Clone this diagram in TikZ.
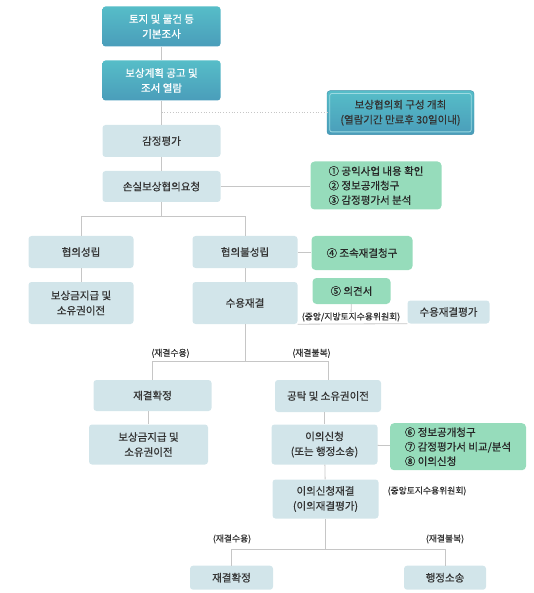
\documentclass[tikz,border=0pt]{standalone}
\usepackage{fontspec}
\setmainfont{Noto Sans CJK KR}
\newfontfamily\boxfont{Noto Sans CJK KR}[FakeBold=0.6]
\definecolor{cTealTop}{HTML}{56BDC8}
\definecolor{cTealBot}{HTML}{4A9DBA}
\definecolor{cTealRim}{HTML}{3F8FAA}
\definecolor{cTealInner}{HTML}{9CDAE2}
\definecolor{cPale}{HTML}{D2E5EA}
\definecolor{cMint}{HTML}{96DCBB}
\definecolor{cLine}{HTML}{C6C6C6}
\definecolor{cText}{HTML}{333333}
\tikzset{
  tealbox/.style={rounded corners=3pt, top color=cTealTop, bottom color=cTealBot, text=white,
    font=\boxfont\fontsize{10.5}{15}\selectfont, align=center, inner sep=0pt},
  palebox/.style={rounded corners=3pt, fill=cPale, text=cText,
    font=\boxfont\fontsize{10.5}{15}\selectfont, align=center, inner sep=0pt},
  mintbox/.style={rounded corners=4pt, fill=cMint, text=black!85,
    font=\boxfont\fontsize{10.5}{14.5}\selectfont, align=left, inner sep=0pt},
  link/.style={draw=cLine, line width=0.8pt},
  dotlink/.style={draw=cLine, line width=0.8pt, dotted},
  tag/.style={font=\boxfont\fontsize{8.8}{10}\selectfont, text=cText, inner sep=0pt}
}

\begin{document}
\begin{tikzpicture}[x=1pt,y=-1pt]
\useasboundingbox (0,0) rectangle (533,593);

\node[tealbox, minimum width=118, minimum height=40] (survey) at (161.5,26.5) {토지 및 물건 등\\기본조사};
\node[tealbox, minimum width=118, minimum height=40] (notice) at (161.5,80.5) {보상계획 공고 및\\조서 열람};
\node[tealbox, draw=cTealRim, text=cText, minimum width=147, minimum height=44] (council) at (400.5,112.7) {보상협의회 구성 개최\\(열람기간 만료후 30일이내)};
\draw[cTealInner, line width=0.8pt, rounded corners=2pt] ([shift={(3,3)}]council.north west) rectangle ([shift={(-3,-3)}]council.south east);

\node[palebox, minimum width=118, minimum height=32] (appraisal) at (161.5,141) {감정평가};
\node[palebox, minimum width=118, minimum height=31] (request) at (161.5,186.5) {손실보상협의요청};
\node[mintbox, minimum width=131, minimum height=48] (check1) at (376,185.5) {① 공익사업 내용 확인\\② 정보공개청구\\③ 감정평가서 분석};

\node[palebox, minimum width=105, minimum height=32] (agree) at (81,252) {협의성립};
\node[palebox, minimum width=105, minimum height=32] (disagree) at (245,252) {협의불성립};
\node[mintbox, minimum width=101, minimum height=34] (req4) at (362,253) {④ 조속재결청구};
\node[palebox, minimum width=105, minimum height=42] (pay1) at (81,303) {보상금지급 및\\소유권이전};
\node[palebox, minimum width=105, minimum height=42] (adjud) at (245,303) {수용재결};
\node[mintbox, minimum width=78, minimum height=26] (opinion) at (351.5,291) {⑤ 의견서};
\node[tag] (committee) at (351,317) {(중앙/지방토지수용위원회)};
\node[palebox, minimum width=82, minimum height=23] (evalbox) at (448.5,312) {수용재결평가};

\node[palebox, minimum width=118, minimum height=31] (confirm1) at (152.5,395.5) {재결확정};
\node[palebox, minimum width=106, minimum height=32] (deposit) at (328,396) {공탁 및 소유권이전};
\node[palebox, minimum width=119, minimum height=40] (pay2) at (148.5,444.5) {보상금지급 및\\소유권이전};
\node[palebox, minimum width=106, minimum height=40] (objection) at (324.5,444.5) {이의신청\\(또는 행정소송)};
\node[mintbox, minimum width=136, minimum height=47] (check2) at (458,446.7) {⑥ 정보공개청구\\⑦ 감정평가서 비교/분석\\⑧ 이의신청};
\node[palebox, minimum width=106, minimum height=39] (review) at (325.5,499) {이의신청재결\\(이의재결평가)};
\node[tag] (central) at (427,491) {(중앙토지수용위원회)};

\node[palebox, minimum width=83, minimum height=24] (confirm2) at (231.5,577.7) {재결확정};
\node[palebox, minimum width=82, minimum height=24] (suit) at (445,577.7) {행정소송};

\node[tag] (accept1) at (170.5,353.3) {(재결수용)};
\node[tag] (refuse1) at (311.5,353.3) {(재결불복)};
\node[tag] (accept2) at (232,539) {(재결수용)};
\node[tag] (refuse2) at (445,539) {(재결불복)};

\coordinate (split1) at (161.5,216.3);
\coordinate (split2) at (245,361);
\coordinate (split3) at (325.5,549.3);

\draw[link] (survey) -- (notice);
\draw[link] (notice) -- (appraisal);
\draw[dotlink] (notice.south |- council.west) -- (council.west);
\draw[link] (appraisal) -- (request);
\draw[link] (request.east) -- (request.east -| check1.west);
\draw[link] (request) -- (split1);
\draw[link] (split1) -| (agree);
\draw[link] (split1) -| (disagree);
\draw[link] (agree) -- (pay1);
\draw[link] (disagree) -- (adjud);
\draw[link] (disagree.east) -- (disagree.east -| req4.west);
\draw[link] (opinion) -- (committee);
\draw[link] (adjud.south east) -- (evalbox.south west);
\draw[link] (adjud) -- (split2);
\draw[link] (split2) -| (confirm1);
\draw[link] (split2) -| (deposit);
\draw[link] (pay2.north |- confirm1.south) -- (pay2);
\draw[link] (objection.north |- deposit.south) -- (objection);
\draw[link] (objection) -- (check2);
\draw[link] (objection) -- (review);
\draw[link] (review) -- (split3);
\draw[link] (split3) -| (confirm2);
\draw[link] (split3) -| (suit);
\end{tikzpicture}
\end{document}
